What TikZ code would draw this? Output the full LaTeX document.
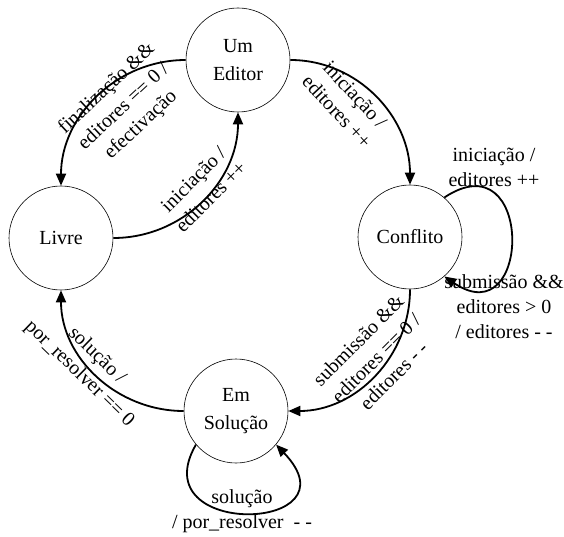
\documentclass[tikz,border=0pt]{standalone}
\usepackage{fontspec}
\setmainfont{Liberation Serif}
\usetikzlibrary{arrows.meta}
\begin{document}
\begin{tikzpicture}[x=1pt,y=1pt,
  state/.style={draw, circle, line width=0.6pt, minimum size=104pt, inner sep=0pt,
    align=center, font=\fontsize{20}{28}\selectfont},
  trans/.style={line width=1.8pt, -{Triangle[length=12pt,width=10pt]}},
  lbl/.style={align=center, font=\fontsize{20}{25}\selectfont, inner sep=0pt}]
\useasboundingbox (0,0) rectangle (564,536);

% states
\node[state] (ue)    at (238,476) {Um\\Editor};
\node[state] (livre) at (61,298)  {Livre};
\node[state] (conf)  at (410,299) {Conflito};
\node[state] (sol)   at (236,125) {Em\\Solução};

% transitions
\draw[trans] (livre.east) to[out=0,in=-90] (ue.south);
\draw[trans] (ue.west) to[out=180,in=90] (livre.north);
\draw[trans] (ue.east) to[out=0,in=90] (conf.north);
\draw[trans] (conf.south) to[out=-90,in=0] (sol.east);
\draw[trans] (sol.west) to[out=180,in=-90] (livre.south);
\draw[trans] (conf.49) .. controls +(90,60) and +(88,-60) .. (conf.-49);
\draw[trans] (sol.-140) .. controls +(-55,-95) and +(84,-88) .. (sol.-40);

% transition labels
\node[lbl, rotate=45]  (l1) at (202,348) {iniciação /\\editores ++};
\node[lbl, rotate=43]  (l2) at (124,429) {finalização \&\&\\editores == 0 /\\efectivação};
\node[lbl, rotate=-47] (l3) at (346,433) {iniciação /\\editores ++};
\node[lbl, rotate=45]  (l4) at (376,178) {submissão \&\&\\editores == 0 /\\editores - -};
\node[lbl, rotate=-44] (l5) at (88,171)  {solução /\\por\_resolver == 0};
\node[lbl] (l6) at (494,369) {iniciação /\\editores ++};
\node[lbl] (l7) at (504,229) {submissão \&\&\\editores > 0\\/ editores - -};
\node[lbl] (l8) at (242,25)  {solução\\/ por\_resolver~~- -};
\end{tikzpicture}
\end{document}
